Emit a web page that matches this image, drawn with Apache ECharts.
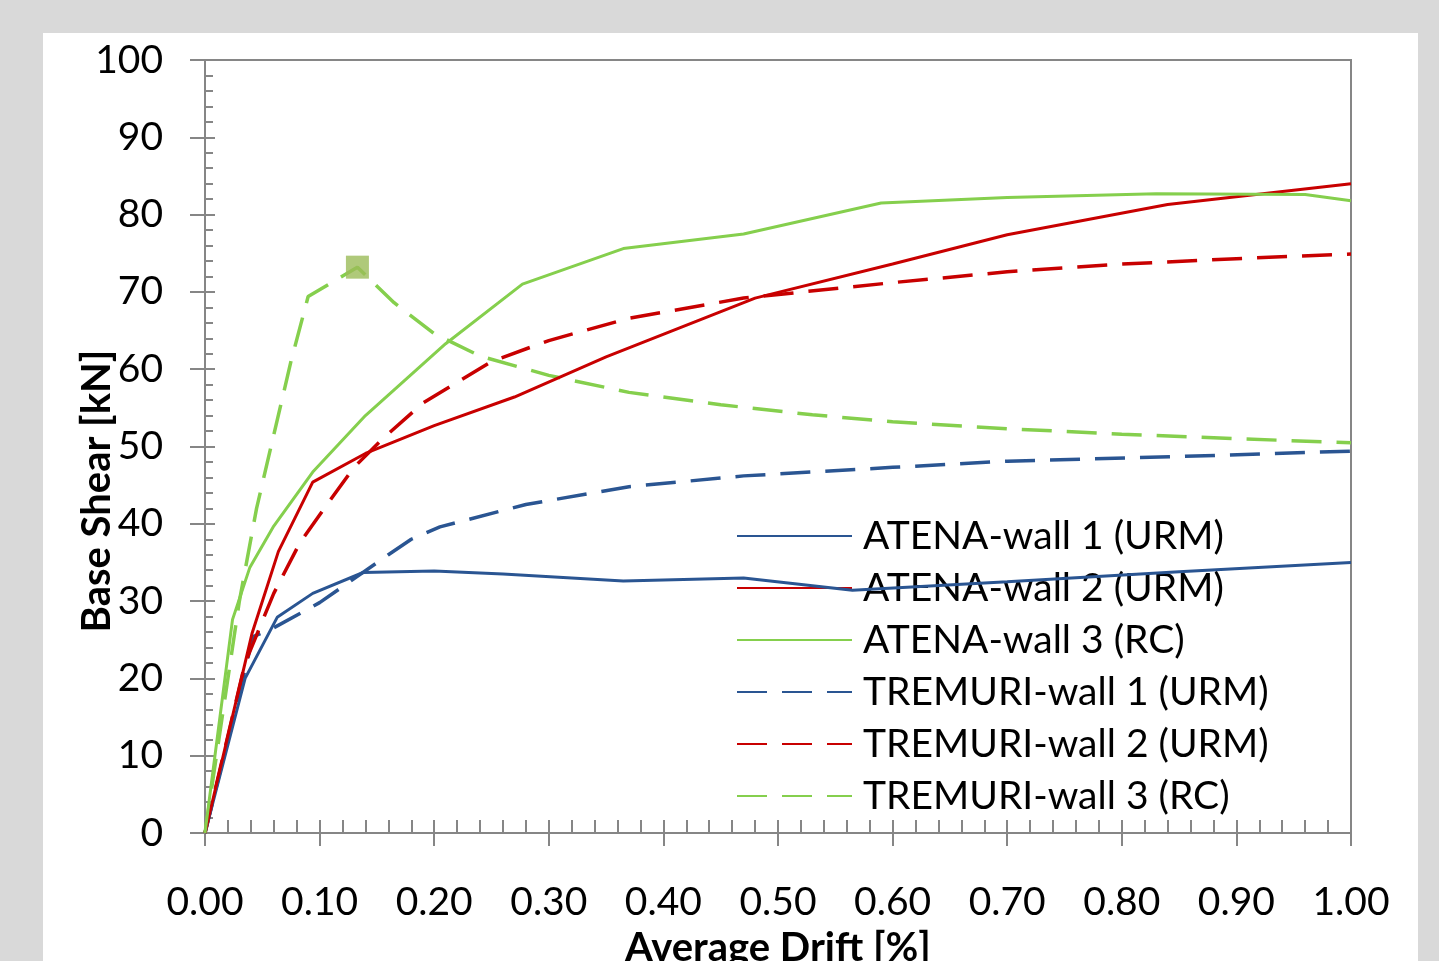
<!DOCTYPE html>
<html>
<head>
<meta charset="utf-8">
<script src="https://cdn.jsdelivr.net/npm/echarts@6/dist/echarts.min.js"></script>
<style>
  html, body { margin: 0; padding: 0; background: #d9d9d9; overflow: hidden; }
  #panel { position: absolute; left: 43px; top: 33px; width: 1375px; height: 940px; background: #fff; }
  #chart { position: absolute; left: 0; top: 0; width: 1439px; height: 961px; }
</style>
</head>
<body>
<div id="panel"></div>
<div id="chart"></div>
<script>
// drift [%] , base shear [kN]
var atena1 = [[0,0],[0.035,20],[0.063,27.9],[0.094,31],[0.138,33.7],[0.2,33.9],[0.26,33.5],[0.365,32.6],[0.47,33.0],[0.565,31.4],[0.7,32.5],[0.85,33.8],[1.0,35.0]];
var atena2 = [[0,0],[0.041,25.8],[0.064,36.4],[0.094,45.4],[0.14,49.1],[0.2,52.7],[0.27,56.4],[0.35,61.6],[0.48,69.2],[0.6,73.6],[0.7,77.4],[0.84,81.3],[1.0,84.0]];
var atena3 = [[0,0],[0.024,27.6],[0.039,34.3],[0.06,39.7],[0.094,46.7],[0.14,54.0],[0.21,63.3],[0.277,71.0],[0.365,75.6],[0.47,77.5],[0.59,81.5],[0.7,82.2],[0.83,82.7],[0.96,82.6],[1.0,81.8]];
var tremuri1 = [[0,0],[0.042,25.4],[0.057,26.3],[0.1,29.8],[0.16,36.0],[0.18,38.0],[0.205,39.6],[0.28,42.5],[0.37,44.8],[0.47,46.2],[0.6,47.3],[0.7,48.1],[0.85,48.7],[1.0,49.4]];
var tremuri2 = [[0,0],[0.035,22],[0.06,31],[0.083,37.6],[0.106,42.4],[0.13,47.3],[0.155,51],[0.19,55.6],[0.25,61],[0.3,63.7],[0.37,66.6],[0.47,69.2],[0.6,71.2],[0.7,72.6],[0.8,73.6],[0.9,74.3],[1.0,74.9]];
var tremuri3 = [[0,0],[0.03,30],[0.045,42],[0.06,51.5],[0.075,61],[0.09,69.4],[0.133,73.2],[0.165,68.6],[0.2,64.6],[0.24,61.7],[0.3,59.2],[0.37,57.0],[0.45,55.4],[0.53,54.1],[0.6,53.2],[0.7,52.3],[0.8,51.6],[0.9,51.0],[1.0,50.5]];
var peakMark = [[0.133,73.2]];

var names = ['ATENA-wall 1 (URM)','ATENA-wall 2 (URM)','ATENA-wall 3 (RC)','TREMURI-wall 1 (URM)','TREMURI-wall 2 (URM)','TREMURI-wall 3 (RC)'];
var blue = '#2a5592', red = '#c80000', green = '#85cf4d';

var font = 'Lato, "Open Sans", sans-serif';
var axisGray = '#868686';

function line(name, data, color, dashed) {
  return {
    name: name, type: 'line', data: data, symbol: 'none', z: dashed ? 3 : 4,
    lineStyle: { color: color, width: dashed ? 3.5 : 3, type: dashed ? [30, 15] : 'solid' },
    itemStyle: { color: color }
  };
}

var chart = echarts.init(document.getElementById('chart'));
chart.setOption({
  animation: false,
  backgroundColor: 'transparent',
  grid: { left: 205, top: 60, width: 1146, height: 773, outerBoundsMode: 'none', show: true, borderColor: axisGray, borderWidth: 2, backgroundColor: 'transparent' },
  legend: {
    data: names, orient: 'vertical', left: 731, top: 509,
    itemWidth: 115, itemHeight: 14, itemGap: 8,
    itemStyle: { opacity: 0 },
    textStyle: { fontFamily: font, fontSize: 39, color: '#000', lineHeight: 44, padding: [0, 0, 0, 6] }
  },
  xAxis: [{
    type: 'value', min: 0, max: 1, interval: 0.1,
    axisLine: { lineStyle: { color: axisGray, width: 2 } },
    axisTick: { length: 13, lineStyle: { color: axisGray, width: 2 } },
    splitLine: { show: false },
    axisLabel: { margin: 50, fontFamily: font, fontSize: 39, color: '#000', formatter: function (v) { return v.toFixed(2); } },
    name: 'Average Drift [%]', nameLocation: 'middle', nameGap: 95,
    nameTextStyle: { fontFamily: font, fontSize: 40, fontWeight: 'bold', color: '#000' }
  }, {
    type: 'value', min: 0, max: 1, interval: 0.1, position: 'bottom',
    axisLine: { show: false },
    axisTick: { inside: true, length: 13, lineStyle: { color: axisGray, width: 2 } },
    minorTick: { show: true, splitNumber: 5, length: 13, lineStyle: { color: axisGray, width: 2 } },
    splitLine: { show: false }, axisLabel: { show: false }
  }],
  yAxis: [{
    type: 'value', min: 0, max: 100, interval: 10,
    axisLine: { lineStyle: { color: axisGray, width: 2 } },
    axisTick: { length: 15, lineStyle: { color: axisGray, width: 2 } },
    splitLine: { show: false },
    axisLabel: { margin: 42, fontFamily: font, fontSize: 39, color: '#000' }
  }, {
    type: 'value', min: 0, max: 100, interval: 10, position: 'left',
    axisLine: { show: false },
    axisTick: { inside: true, length: 10, lineStyle: { color: axisGray, width: 2 } },
    minorTick: { show: true, splitNumber: 5, length: 8, lineStyle: { color: axisGray, width: 2 } },
    splitLine: { show: false }, axisLabel: { show: false }
  }],
  graphic: [{
    type: 'text', x: 97, y: 491, rotation: Math.PI / 2,
    style: { text: 'Base Shear [kN]', fontFamily: font, fontSize: 40, fontWeight: 'bold', fill: '#000', align: 'center', verticalAlign: 'middle' }
  }],
  series: [
    line(names[0], atena1, blue, false),
    line(names[1], atena2, red, false),
    line(names[2], atena3, green, false),
    line(names[3], tremuri1, blue, true),
    line(names[4], tremuri2, red, true),
    line(names[5], tremuri3, green, true),
    { type: 'scatter', data: peakMark, symbol: 'rect', symbolSize: 23, itemStyle: { color: '#9bbb59' }, z: 5 }
  ]
});
</script>
</body>
</html>
